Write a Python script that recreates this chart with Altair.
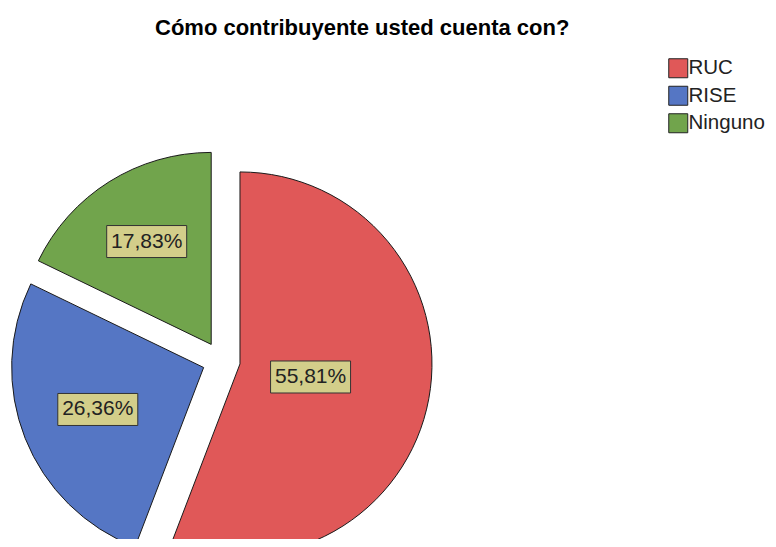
import altair as alt
import pandas as pd

# ---- data ----
categories = ["RUC", "RISE", "Ninguno"]
counts = [72, 34, 23]          # 55,81 % / 26,36 % / 17,83 % of 129
colors = ["#E05858", "#5576C4", "#71A44C"]
title_text = "Cómo contribuyente usted cuenta con?"

df = pd.DataFrame({
    "categoria": categories,
    "n": counts,
    "orden": list(range(len(categories))),
})

# ---- layout constants (pixels, relative to plot area) ----
CX, CY = 213.3, 310.5   # pie centre before explosion
R = 192                 # radius
D = 19                  # explosion distance
BW, BH = 80, 32         # label box size

base = (
    alt.Chart(df)
    .transform_joinaggregate(total="sum(n)")
    .transform_window(cum="sum(n)", sort=[alt.SortField("orden")])
    .transform_calculate(pct="datum.n / datum.total * 100")
    .transform_calculate(t1="2 * PI * datum.cum / datum.total")
    .transform_calculate(t0="2 * PI * (datum.cum - datum.n) / datum.total")
    .transform_calculate(mid="(datum.t0 + datum.t1) / 2")
    .transform_calculate(half="(datum.t1 - datum.t0) / 2")
    .transform_calculate(cx=f"{CX} + {D} * sin(datum.mid)")
    .transform_calculate(cy=f"{CY} - {D} * cos(datum.mid)")
    .transform_calculate(dist=f"2 * {R} * sin(datum.half) / (3 * datum.half)")
    .transform_calculate(lx="datum.cx + datum.dist * sin(datum.mid)")
    .transform_calculate(ly="datum.cy - datum.dist * cos(datum.mid)")
    .transform_calculate(bx0=f"datum.lx - {BW / 2}")
    .transform_calculate(bx1=f"datum.lx + {BW / 2}")
    .transform_calculate(by0=f"datum.ly - {BH / 2}")
    .transform_calculate(by1=f"datum.ly + {BH / 2}")
    .transform_calculate(label="replace(format(datum.pct, '.2f'), '.', ',') + '%'")
)

arcs = base.mark_arc(outerRadius=R, stroke="#1a1a1a", strokeWidth=1).encode(
    x=alt.X("cx:Q", scale=None, axis=None),
    y=alt.Y("cy:Q", scale=None, axis=None),
    theta=alt.Theta("t0:Q", scale=None, stack=False),
    theta2="t1:Q",
    color=alt.Color(
        "categoria:N",
        scale=alt.Scale(domain=categories, range=colors),
        legend=alt.Legend(
            orient="none",
            legendX=660,
            legendY=8,
            title=None,
            symbolType="square",
            symbolSize=361,
            symbolStrokeColor="#222222",
            symbolStrokeWidth=1,
            symbolOpacity=1,
            labelFontSize=20.5,
            labelFont="Liberation Sans",
            labelColor="#222222",
            rowPadding=3.5,
            labelOffset=0,
            padding=0,
        ),
    ),
)

boxes = base.mark_rect(fill="#D3CE8A", stroke="#333333", strokeWidth=1).encode(
    x=alt.X("bx0:Q", scale=None, axis=None),
    x2="bx1:Q",
    y=alt.Y("by0:Q", scale=None, axis=None),
    y2="by1:Q",
)

labels = base.mark_text(
    font="Liberation Sans", fontSize=21, color="#222222",
    align="center", baseline="middle",
).encode(
    x=alt.X("lx:Q", scale=None, axis=None),
    y=alt.Y("ly:Q", scale=None, axis=None),
    text="label:N",
)

chart = (
    alt.layer(arcs, boxes, labels)
    .properties(
        width=760,
        height=489,
        autosize=alt.AutoSizeParams(type="none"),
        padding={"top": 42, "left": 0, "right": 0, "bottom": 0},
        title=alt.TitleParams(
            text=title_text,
            anchor="start",
            frame="group",
            dx=147,
            offset=10,
            fontSize=22,
            font="Liberation Sans",
            fontWeight="bold",
            color="#000000",
        ),
    )
    .configure_view(stroke=None)
)

chart.save("out.html", embed_options={"renderer": "svg", "actions": False})
